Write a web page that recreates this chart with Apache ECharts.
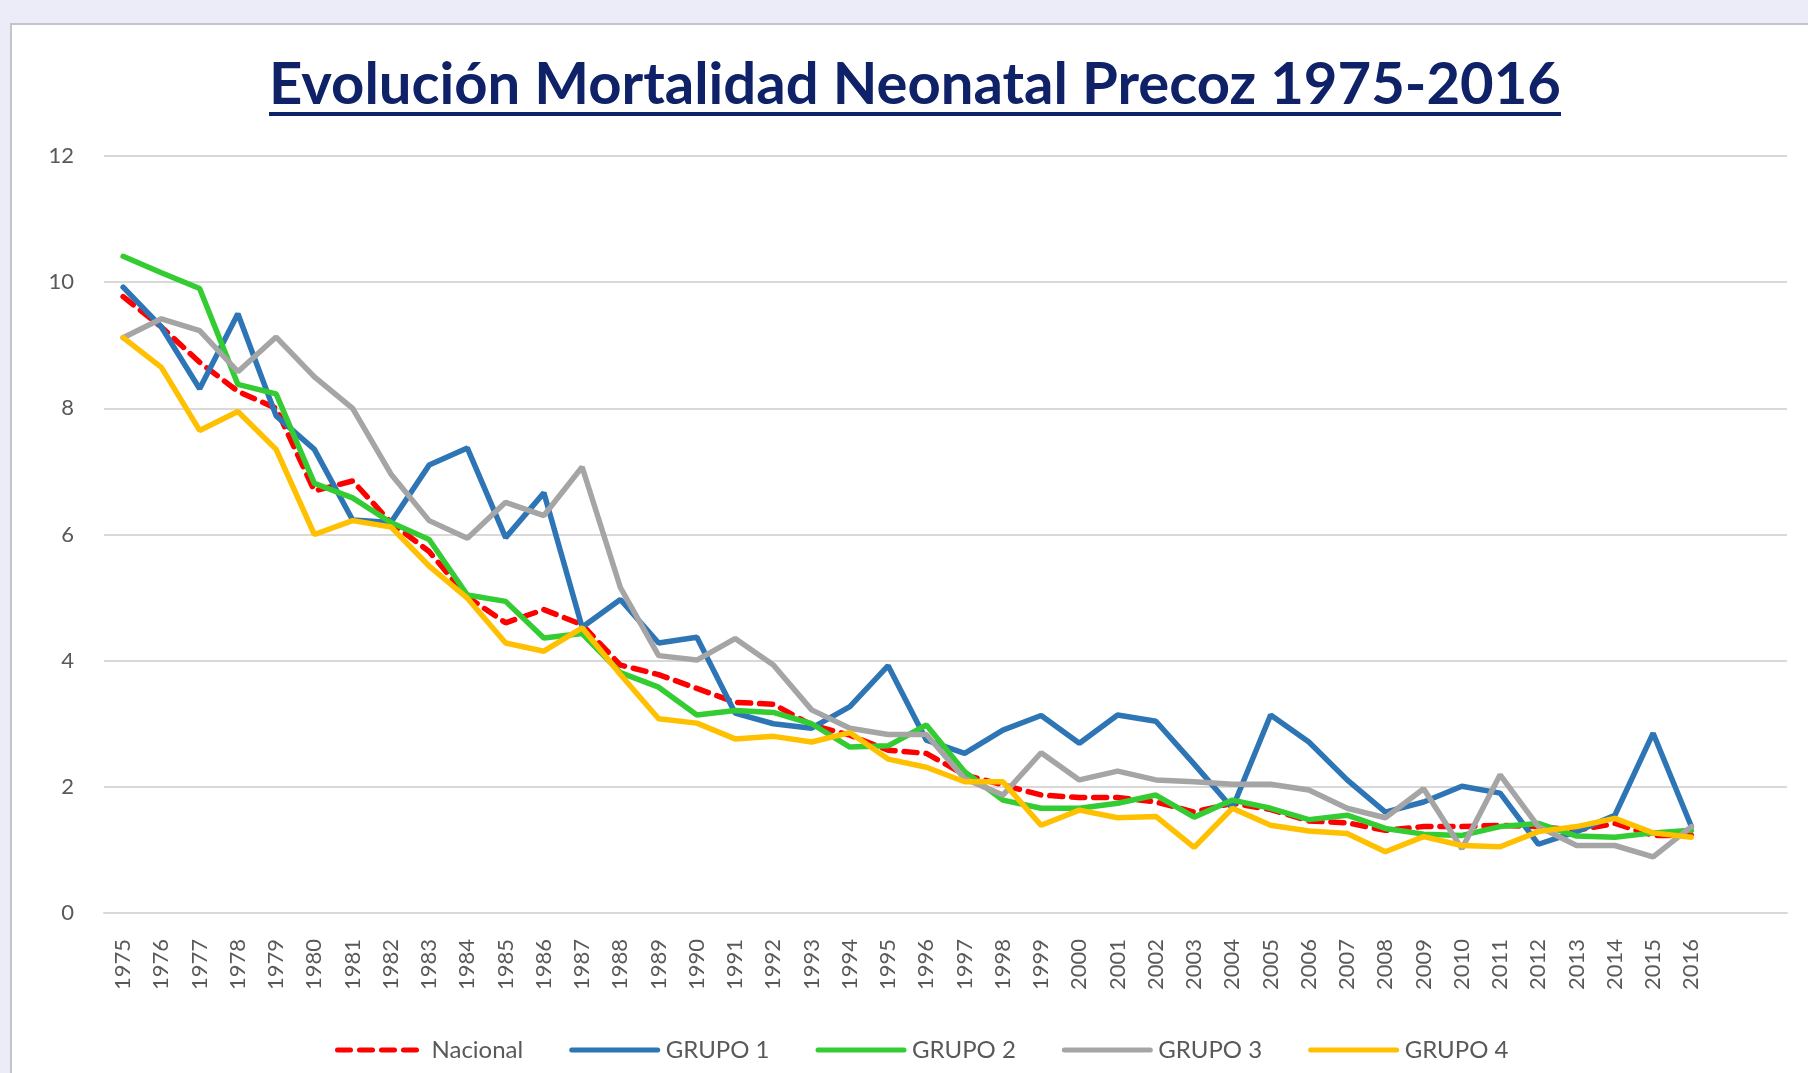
<!DOCTYPE html>
<html>
<head>
<meta charset="utf-8">
<script src="https://cdn.jsdelivr.net/npm/echarts@6/dist/echarts.min.js"></script>
<style>
  html, body { margin: 0; padding: 0; background: #ececf8; }
  #chart { width: 1808px; height: 1073px; }
</style>
</head>
<body>
<div id="chart"></div>
<script>
// años del eje X
var years = ['1975', '1976', '1977', '1978', '1979', '1980', '1981', '1982', '1983', '1984',
    '1985', '1986', '1987', '1988', '1989', '1990', '1991', '1992', '1993', '1994',
    '1995', '1996', '1997', '1998', '1999', '2000', '2001', '2002', '2003', '2004',
    '2005', '2006', '2007', '2008', '2009', '2010', '2011', '2012', '2013', '2014',
    '2015', '2016'];

// tasas
var nacional = [9.77, 9.29, 8.73, 8.27, 8.0, 6.69, 6.85, 6.19, 5.73,
    5.01, 4.6, 4.81, 4.57, 3.93, 3.78, 3.56, 3.34, 3.31,
    2.98, 2.82, 2.58, 2.53, 2.19, 2.03, 1.87, 1.83, 1.83,
    1.76, 1.60, 1.74, 1.64, 1.46, 1.43, 1.31, 1.37,
    1.37, 1.39, 1.37, 1.31, 1.42, 1.23, 1.23];
var grupo1 = [9.92, 9.29, 8.31, 9.5, 7.88, 7.35, 6.23, 6.19, 7.10,
    7.37, 5.95, 6.66, 4.53, 4.97, 4.28, 4.37, 3.17, 3.0,
    2.93, 3.27, 3.92, 2.74, 2.53, 2.90, 3.13, 2.69, 3.14,
    3.04, 2.36, 1.66, 3.14, 2.71, 2.11, 1.60, 1.76,
    2.01, 1.90, 1.09, 1.29, 1.55, 2.85, 1.37];
var grupo2 = [10.41, 10.15, 9.9, 8.38, 8.23, 6.81, 6.58, 6.19, 5.92,
    5.04, 4.94, 4.36, 4.43, 3.81, 3.58, 3.14, 3.21, 3.18,
    3.0, 2.63, 2.65, 2.98, 2.24, 1.79, 1.66, 1.66, 1.74,
    1.87, 1.52, 1.79, 1.66, 1.48, 1.55, 1.34, 1.25,
    1.23, 1.37, 1.42, 1.22, 1.20, 1.27, 1.31];
var grupo3 = [9.12, 9.42, 9.23, 8.58, 9.13, 8.5, 8.0, 6.96, 6.22,
    5.94, 6.51, 6.30, 7.07, 5.16, 4.08, 4.01, 4.35, 3.93,
    3.22, 2.93, 2.83, 2.83, 2.13, 1.87, 2.54, 2.11, 2.25,
    2.11, 2.08, 2.04, 2.04, 1.95, 1.66, 1.51, 1.97,
    1.02, 2.19, 1.37, 1.07, 1.07, 0.89, 1.37];
var grupo4 = [9.12, 8.65, 7.65, 7.95, 7.35, 6.0, 6.22, 6.12, 5.5,
    4.99, 4.28, 4.15, 4.52, 3.78, 3.08, 3.01, 2.76, 2.80,
    2.71, 2.86, 2.44, 2.31, 2.08, 2.08, 1.39, 1.63, 1.51,
    1.53, 1.04, 1.66, 1.39, 1.30, 1.26, 0.97, 1.21,
    1.07, 1.05, 1.29, 1.37, 1.50, 1.27, 1.20];

var titulo = 'Evolución Mortalidad Neonatal Precoz 1975-2016';
var fuente = 'Lato, "Open Sans", sans-serif';

// ancho del título para el subrayado
var ctx = document.createElement('canvas').getContext('2d');
ctx.font = 'bold 58px ' + fuente;
var anchoTitulo = ctx.measureText(titulo).width;
var centroTitulo = 915;

var myChart = echarts.init(document.getElementById('chart'));

function linea(nombre, datos, color, tipo) {
    return {
        name: nombre,
        type: 'line',
        data: datos,
        symbol: 'none',
        smooth: false,
        animation: false,
        lineStyle: { color: color, width: 5.5, type: tipo, cap: 'round' },
        itemStyle: { color: color }
    };
}

myChart.setOption({
    backgroundColor: '#ececf8',
    textStyle: { fontFamily: fuente },
    graphic: [
        {
            type: 'rect', z: -10, silent: true,
            shape: { x: 11, y: 24, width: 1810, height: 1060 },
            style: { fill: '#ffffff', stroke: '#c4c4cc', lineWidth: 2 }
        },
        {
            type: 'rect', z: 10, silent: true,
            shape: { x: centroTitulo - anchoTitulo / 2, y: 112, width: anchoTitulo, height: 4 },
            style: { fill: '#0f2167' }
        }
    ],
    title: {
        text: titulo,
        left: centroTitulo - anchoTitulo / 2,
        top: 56,
        padding: 0,
        textStyle: { fontFamily: fuente, fontWeight: 'bold', fontSize: 58, color: '#0f2167' }
    },
    grid: { left: 104, top: 156, width: 1683, height: 757, containLabel: false },
    legend: {
        left: 330,
        top: 1033,
        itemWidth: 86,
        itemHeight: 16,
        itemGap: 46,
        itemStyle: { opacity: 0 },
        lineStyle: { width: 5 },
        textStyle: { fontSize: 24, color: '#595959', fontFamily: fuente, padding: [0, 0, 0, 3] },
        data: ['Nacional', 'GRUPO 1', 'GRUPO 2', 'GRUPO 3', 'GRUPO 4']
    },
    xAxis: {
        type: 'category',
        data: years.concat(['', '']),
        boundaryGap: true,
        axisLine: { show: true, lineStyle: { color: '#d9d9d9', width: 2 } },
        axisTick: { show: false },
        axisLabel: { rotate: 90, margin: 26, fontSize: 22, color: '#595959', interval: 0 }
    },
    yAxis: {
        type: 'value',
        min: 0,
        max: 12,
        interval: 2,
        axisLine: { show: false },
        axisTick: { show: false },
        splitLine: { lineStyle: { color: '#d9d9d9', width: 2 } },
        axisLabel: { margin: 30, fontSize: 22, color: '#595959' }
    },
    series: [
        linea('Nacional', nacional, '#ff0000', [13, 9]),
        linea('GRUPO 1', grupo1, '#2e75b6', 'solid'),
        linea('GRUPO 2', grupo2, '#33cc33', 'solid'),
        linea('GRUPO 3', grupo3, '#a5a5a5', 'solid'),
        linea('GRUPO 4', grupo4, '#ffc000', 'solid')
    ]
});
</script>
</body>
</html>
